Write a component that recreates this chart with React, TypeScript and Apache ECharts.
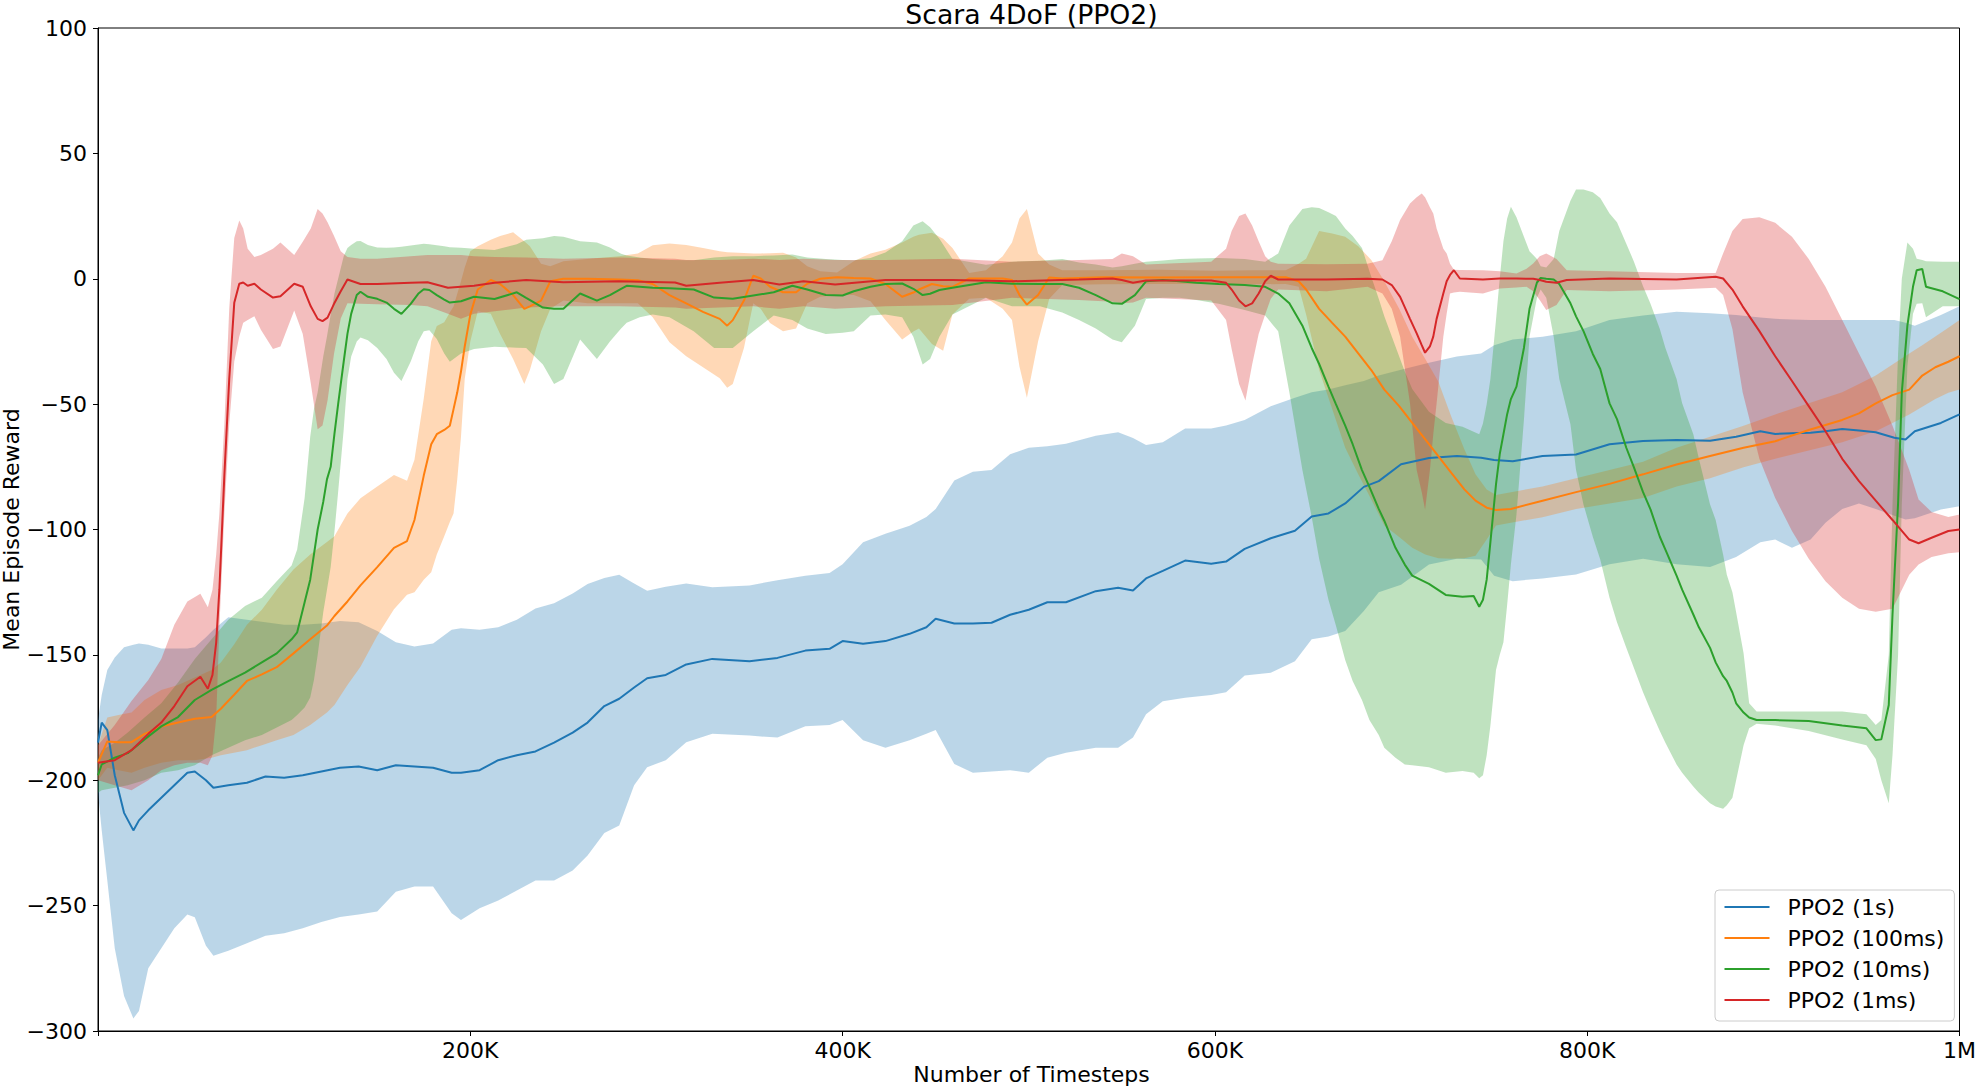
import React, { useEffect, useRef } from 'react';
import * as echarts from 'echarts';

const FONT = 'DejaVu Sans';
const TITLE = 'Scara 4DoF (PPO2)';
const X_NAME = 'Number of Timesteps';
const Y_NAME = 'Mean Episode Reward';
const SERIES_NAMES = ['PPO2 (1s)', 'PPO2 (100ms)', 'PPO2 (10ms)', 'PPO2 (1ms)'];
const SERIES_COLORS = ['#1f77b4', '#ff7f0e', '#2ca02c', '#d62728'];
const X_TICKS = [200000, 400000, 600000, 800000, 1000000];
const X_TICK_LABELS = ['200K', '400K', '600K', '800K', '1M'];

// rows: [timesteps (K), mean, lower, upper]
const ppo2_1s = [
  [0,-185,-205,-176],[2,-177,-220,-166],[5,-180,-240,-156],[9,-198,-267,-151],[14,-213,-286,-147],
  [19,-220,-295,-146],[22,-216,-292,-145.5],[27,-212,-275,-146],[34,-207,-267,-147.5],[41,-202,-259,-147.5],
  [48,-197,-253.5,-147.5],[52,-196.5,-254.6,-147],[58,-200,-266,-143],[62,-203,-270,-140],[70,-202,-268,-135],
  [80,-201,-265,-136],[90,-198.5,-262,-137],[100,-199,-261,-138],[110,-198,-259,-138],[120,-196.5,-256.5,-137.5],
  [130,-195,-254.5,-136.5],[140,-194.5,-253.5,-137],[150,-196,-252.3,-140.5],[160,-194,-244.5,-145],[170,-194.5,-242.4,-146.7],
  [180,-195,-242.4,-145.5],[190,-197,-253,-140],[195,-197,-255.7,-139.4],[205,-196,-251,-140],[215,-192,-248,-139],
  [225,-190,-244,-136],[235,-188.5,-240,-131.5],[245,-185,-240,-129.4],[255,-181,-236,-125.5],[263,-177,-230,-121.7],
  [272,-170.4,-221,-119.3],[280,-167.5,-218,-118],[288,-163,-202,-121.5],[295,-159.3,-194.8,-124.4],[305,-158,-192,-122.8],
  [316,-153.8,-184.8,-121.5],[330,-151.6,-181.5,-123],[350,-152.5,-182.2,-122.3],[365,-151.2,-183,-120.2],[380,-148.3,-178.5,-118.4],
  [393,-147.6,-178,-117.3],[400,-144.5,-176,-113.9],[411,-145.6,-184,-105.1],[423,-144.5,-187,-101.7],[436,-141.6,-184,-98.5],
  [445,-139,-181.5,-95],[450,-135.6,-180,-91.8],[460,-137.5,-193.5,-80.5],[470,-137.5,-197,-77],[480,-137.2,-196.5,-76.3],
  [490,-134,-196,-70],[500,-132,-197,-67.4],[510,-129,-191,-66.8],[520,-129,-189,-65.8],[536,-124.6,-187,-62.6],
  [548,-123.2,-187,-61.2],[556,-124.3,-183,-63.5],[563,-119.5,-173.7,-66.3],[572,-116.5,-168.5,-65.2],[584,-112.4,-167.1,-59.7],
  [598,-113.7,-166,-59.7],[606,-112.8,-164.9,-58.5],[616,-107.7,-158.2,-56.3],[630,-103.5,-157.1,-50.8],[643,-100.5,-152.5,-47.5],
  [652,-94.8,-143.8,-45.3],[661,-93.6,-142.7,-44.2],[670,-89.6,-140.5,-42.5],[680,-83,-132.5,-40.8],[688,-80.7,-125,-38.6],
  [700,-74,-122,-36.3],[715,-71.5,-114,-33.5],[730,-70.7,-111.7,-31],[743,-71.4,-112,-29.8],[750,-72.3,-118.4,-26.5],
  [760,-72.8,-120.6,-24.2],[776,-70.7,-119.5,-23.1],[794,-70.1,-117.9,-20.9],[812,-66,-113.9,-16.5],[830,-64.7,-111.7,-14.7],
  [848,-64.3,-113.9,-13.2],[866,-64.6,-115,-13.8],[880,-63,-111,-14.5],[893,-60.8,-105.1,-15.5],[901,-61.9,-104,-16],
  [910,-61.6,-107.3,-16.3],[920,-61.4,-104,-16.5],[928,-60.8,-97.3,-16.5],[937,-59.9,-91.8,-16.5],[946,-60.5,-89.6,-16.5],
  [955,-61.2,-91.8,-16.5],[965,-63.4,-94.5,-16.5],[971,-64.1,-96,-17.5],[976,-60.8,-95.5,-18.7],[990,-57.5,-92,-14.5],
  [1000,-54.1,-90.7,-11],
];

const ppo2_100ms = [
  [0,-193,-200,-186],[5,-184.5,-195,-175],[11,-184.8,-196,-174],[18,-184.8,-197,-173],[25,-181.5,-195,-168],
  [34,-178.6,-193,-164],[43,-177,-192,-162],[52,-175.5,-192,-159],[61,-174.8,-191,-156],[66,-171.5,-190,-153],
  [73,-166,-189,-146],[80,-160.4,-188,-138],[88,-157.8,-186,-132],[96,-154.9,-184,-124],[105,-149.4,-182,-116],
  [114,-143.8,-178,-110],[123,-138.3,-173,-105],[127,-134.5,-170,-102.7],[134,-128.7,-162,-93.6],[141,-122.3,-154.7,-87.5],
  [150,-115,-142.4,-82.9],[159,-107.3,-131.8,-78.3],[166,-104.6,-126,-80.6],[170,-96.2,-125,-72.2],[175,-78.5,-120,-47.8],
  [179,-66,-117,-24.9],[182,-62,-110,-18.8],[186,-60.3,-102.7,-17.3],[189,-58.6,-97,-13.5],[191,-52,-93.6,-11.1],
  [193,-45.3,-80,-6],[195,-37,-63,-1],[197,-27,-40,4.5],[200,-14.3,-25,11],[204,-4.3,-13,13],
  [211,-0.5,-14,15.6],[216,-2.1,-22,17],[223,-6.5,-32,18.5],[229,-12,-42,15],[232,-11,-36.4,13],
  [238,-8.7,-20.9,6],[243,-1,-12,5],[250,0,-8.7,7],[263,0,-9.8,7.9],[280,-0.3,-9.8,9],
  [290,-0.6,-9.8,10.1],[298,-2.1,-15.4,13.4],[307,-6.5,-25.3,14.1],[316,-9.8,-30.9,13.5],[325,-13.2,-35.3,12.3],
  [334,-16,-39.7,11],[338,-18.7,-43.5,10.6],[341,-16.5,-42,10.5],[347,-8.7,-27.6,10.3],[352,1.2,-9.8,10.1],
  [356,0.1,-12,10.1],[361,-3.2,-17.6,10.2],[368,-5.4,-20.9,10.4],[375,-5.4,-19.8,8.5],[381,-2,-9.8,5],
  [388,0,-7.2,3],[397,0.6,-6.5,2.5],[406,0.3,-6.5,7],[415,0.1,-9,10.1],[423,-2.1,-16.5,11.6],
  [432,-7.2,-24.2,14.5],[438,-5.5,-21,16.7],[441,-4.3,-19.8,17.5],[448,-2.1,-26,18.3],[454,-3,-28.7,16],
  [459,-3.2,-14.3,12.3],[468,0.1,-8,2.3],[477,0.1,-7.6,3.4],[486,0.1,-12,9],[491,-0.5,-16.5,14.5],
  [495,-6.5,-35,24],[499,-10.3,-47.5,27.8],[505,-6.5,-25,10.1],[511,0.5,-8,5.7],[518,0.1,-2.5,3.4],
  [540,0.6,-2.2,3.4],[570,0.5,-2.1,3.6],[600,0.6,-2,3.2],[620,0.6,-2.2,3.4],[638,0.6,-2.1,3.4],
  [645,-1,-3.2,6],[649,-4.3,-14.3,8],[656,-12,-36.4,19],[663,-17.6,-51.9,18],[670,-23.1,-67.4,16.7],
  [677,-29.8,-78,13],[684,-36.4,-88,7.5],[691,-44.2,-98.4,-1],[699,-50.8,-103,-12],[706,-57.5,-107.3,-23.1],
  [713,-64.1,-110,-32],[720,-70.7,-111.5,-41],[727,-77.4,-111.7,-55],[734,-84,-111.5,-68],[740,-88.5,-110.5,-78],
  [746,-91.3,-104,-84],[751,-92.2,-98.4,-86.2],[759,-91.8,-97.3,-85.1],[776,-88.5,-95.1,-82.9],[794,-85.1,-91.8,-79.6],
  [812,-81.8,-89.6,-76.3],[830,-78,-87.4,-73],[848,-74.1,-82.9,-67.4],[866,-70.7,-79.6,-63],[884,-67.4,-75.2,-58.6],
  [901,-64.8,-71.8,-54.1],[919,-60.3,-68.5,-49.7],[937,-56.3,-65.2,-45.3],[946,-53.7,-63,-42],[955,-49.7,-60.8,-38.6],
  [964,-46.4,-57.5,-34.2],[973,-44.2,-54.1,-29.8],[980,-38.6,-51,-26.5],[987,-35.3,-48,-23],[994,-33.1,-45.5,-19.5],
  [1000,-30.9,-44.2,-16.5],
];

const ppo2_10ms = [
  [0,-198,-205,-191],[2,-193.7,-204,-188],[9,-191,-203,-185],[16,-189.2,-202,-181],[25,-183.7,-200,-175],
  [34,-178.5,-197,-169.3],[43,-174.8,-196,-161],[52,-168,-194,-151.6],[61,-164,-190,-143.8],[70,-160.5,-187,-136],
  [79,-157.1,-184,-130.5],[88,-153,-182,-127.2],[96,-149.4,-179,-120.6],[104,-143.8,-176,-114.4],[107,-141,-174,-108],
  [111,-129,-171,-87.4],[114,-120,-167,-63],[116,-110,-160,-52],[118,-100,-150,-45.3],[121,-89,-133,-31],
  [123,-80,-124,-23],[125,-75,-115,-14.3],[127,-62,-101,-6],[129,-50,-85,0],[132,-33,-60,9],
  [134,-22,-40,12.3],[136,-14,-31,13.5],[139,-6.5,-25,15],[141,-5.2,-23.4,15.1],[145,-7.2,-24.5,13.5],
  [150,-8,-27.6,12.5],[155,-9.5,-32,12.4],[159,-12,-37.5,12.5],[163,-14,-40.8,12.8],[168,-10,-33,13.3],
  [172,-6,-25,13.7],[175,-4.2,-20.9,14],[178,-4.5,-20.5,13.8],[182,-6.5,-24,13.4],[186,-8.3,-29.8,13],
  [189,-9.5,-33.1,12.6],[195,-9,-29.8,12.4],[202,-7.2,-28,12],[213,-8.1,-27.1,11.5],[225,-5.4,-27.5,13.8],
  [230,-7.6,-27.6,15.6],[239,-11.5,-34.2,16.2],[245,-12,-42,17],[250,-12,-40,16.7],[259,-5.9,-24.2,15],
  [268,-8.7,-32,14.5],[275,-6.5,-25,12.5],[281,-4,-19.8,10],[284,-2.8,-17.5,9.3],[291,-3.2,-15.4,8.5],
  [298,-3.6,-14.3,7.9],[307,-3.8,-15.4,7.5],[320,-4.3,-20.9,7.4],[331,-7.5,-27.6,8.5],[341,-8,-27.6,9],
  [352,-6.7,-20.9,9],[363,-5.4,-14.7,9.3],[373,-2.8,-16.5,9.7],[381,-4.3,-19.8,8.5],[391,-6.5,-22,7.9],
  [400,-6.7,-21.5,7.5],[406,-5,-20.9,7.4],[415,-3.2,-14.7,8.3],[423,-2.1,-14.3,10.5],[432,-1.9,-15.4,15],
  [438,-4,-23.1,21.2],[443,-6.5,-34.2,22.9],[447,-6,-32,20.5],[452,-4.5,-23.1,16],[459,-3.6,-14.3,7.9],
  [477,-1.4,-7.6,5.6],[491,-2,-11,6.8],[506,-2.1,-11,7.2],[518,-2.1,-13.5,7.9],[527,-3.6,-16.5,6.5],
  [536,-6.5,-19.8,5.7],[545,-9.8,-24.2,4.5],[550,-10,-25.3,5],[557,-6.5,-18.7,6],[563,-1,-8.1,6.8],
  [572,-0.5,-7.6,7.3],[581,-1,-7.6,7.9],[590,-1.6,-8.5,8.1],[602,-2.1,-10,8.3],[616,-2.5,-12.5,7.9],
  [627,-3.2,-14.7,6.8],[634,-5.9,-20.9,10.1],[640,-9.8,-45.3,21.2],[647,-18.7,-76.3,27.8],[652,-27.6,-95,28.5],
  [656,-34,-111.7,28.2],[661,-43,-128,26.5],[665,-50,-138.3,25],[670,-58.6,-152,20],[674,-66,-160.4,17],
  [679,-76.3,-168,12.3],[683,-83,-176,3],[688,-91.8,-182,-8],[691,-96.5,-187,-15],[697,-107.3,-191,-27],
  [702,-114,-193.7,-37],[706,-118.4,-194,-44],[715,-121.7,-194.8,-53],[724,-126.1,-197,-57.5],[733,-126.8,-196.3,-59],
  [739,-126.5,-197,-61],[742,-130.8,-199.2,-62],[744,-128,-198,-57.7],[746,-120,-190,-50],[748,-105,-178.2,-40],
  [751,-82,-156,-16.5],[753,-70,-150,0],[755,-62,-145,15],[757,-54,-130,24],[759,-48,-114,28.7],
  [762,-43,-94,24.5],[766,-27.6,-56.3,16.7],[769,-12,-23.1,11],[773,-1.5,-7.6,7.9],[775,0.3,-4.3,5],
  [778,0,-7.6,4.5],[782,-0.3,-23.1,7.9],[785,-2.1,-40,19],[791,-9.8,-58,31.1],[794,-15,-76.3,35.6],
  [798,-20.9,-90,35.6],[803,-30,-102.9,34.5],[807,-36,-112,32.2],[812,-49.7,-127.2,26],[816,-56,-137,22.5],
  [821,-67.4,-147.2,14],[825,-75,-155,7],[830,-85.1,-164.9,-3],[834,-92,-172,-10],[839,-102.9,-180.4,-20],
  [842,-108,-185,-27.6],[848,-118.4,-193.7,-40],[851,-124,-197,-49.7],[857,-133.9,-202.5,-62],[860,-139,-205,-71.8],
  [866,-147.2,-209.2,-90],[869,-153,-210.5,-96.2],[873,-158.5,-211.4,-110],[875,-160.4,-210,-118],[878,-165,-207,-125],
  [880,-169.3,-200,-133],[884,-173,-186,-149.4],[887,-175,-179.3,-169.3],[891,-176,-177.5,-172.6],[901,-176,-178.2,-172.6],
  [919,-176.4,-180.4,-172.6],[937,-178.2,-183.7,-172.6],[950,-179.3,-186,-173.7],[955,-184,-191.5,-178],[958,-183.7,-200,-176],
  [962,-170,-209.2,-150],[964,-134,-190,-90],[967,-89.6,-150,-30],[969,-45.3,-90,0],[972,-18.7,-35,14.5],
  [975,-3.2,-14,12],[977,3.4,-10,8],[980,3.9,-9.8,7.5],[982,-3.2,-15.4,7],[991,-5,-11,6.8],
  [1000,-8.1,-11,6.8],
];

const ppo2_1ms = [
  [0,-193,-200,-186],[9,-192,-202,-178],[18,-188,-204,-168.4],[27,-181.5,-200,-160],[34,-177,-196,-151.6],
  [41,-170.4,-194,-138],[48,-162.5,-193,-128.7],[55,-158.7,-193,-125.6],[59,-163.5,-194,-131],[61.5,-158,-190,-124],
  [63.5,-145,-175,-110],[65.2,-124,-139,-93.6],[67.9,-78,-93.6,-58],[70.5,-40,-58,-12],[73.2,-9.6,-33,16.3],
  [75.9,-2,-23,23.2],[78,-1.5,-17.5,20],[80.4,-2.8,-16.5,12],[84,-2,-15,8.7],[87.5,-4.3,-20.3,9.5],
  [94,-7.5,-28,12],[98,-7,-27,14.5],[105.4,-2,-12.7,9.5],[110,-3.2,-22,14.8],[114.3,-11,-41.7,20],
  [118,-16,-60,27.8],[120.6,-16.9,-58.5,26],[123.3,-15.5,-48.6,22.5],[126.8,-10,-29.8,17],[130.4,-5,-15.9,11],
  [134,-0.3,-9.8,8.7],[141,-2.1,-10,8],[150,-2.1,-10.2,8],[168,-1.6,-10.5,9],[177,-1.4,-11,9.5],
  [188,-3.6,-14,9.5],[195,-3.2,-16,9.5],[202,-2.8,-14,9],[213,-1.6,-13,8.7],[230,-0.5,-11.5,8.5],
  [250,-1.4,-11,8],[280,-1,-11,8.5],[310,-1.5,-11.5,8],[316,-2.8,-12,7.5],[334,-1.6,-11.5,7.5],
  [352,-0.5,-11,8],[366,-2.3,-12,7.5],[379,-1,-11,8],[396,-2.3,-12,7.5],[423,-0.5,-11,7.5],
  [459,-0.5,-10.5,8],[491,-1,-7.6,6.8],[527,-0.3,-8.5,7.5],[545,0.1,-9.2,7.9],[550,-0.5,-9.8,10.1],
  [556,-1.6,-9.5,9],[563,-0.7,-7.6,5.7],[598,-0.7,-8.7,6.8],[606,-1.6,-16.5,12],[609,-4.3,-28,19],
  [613,-8.7,-42,25],[616.4,-11,-48.6,26],[620,-9.8,-34.2,21.2],[623.5,-5.9,-22,15],[627,-1,-14.3,9],
  [630,1.2,-8,6.8],[634,-0.3,-4.3,6],[660,-0.3,-5,5.8],[682,0,-3.2,6],[690,-0.3,-5.9,7.4],
  [695,-2.5,-12,15],[699.5,-7.2,-23.1,23.4],[704.8,-16,-49.7,30],[708.4,-21.8,-76.3,32.5],[711.1,-26.5,-85,34],
  [712.9,-29.5,-92,32.5],[715.5,-27,-76.3,28.5],[717.3,-23.1,-62,26],[719.1,-16,-49.7,20],[722.7,-5.9,-23.1,12],
  [724.5,-1,-14,10.1],[726.3,1.5,-5.9,6],[728.4,3.4,-5.5,3.6],[731.6,0.1,-5.2,3.5],[744,-0.3,-5.9,3.4],
  [753,0.1,-3.9,3],[762,0.1,-3.5,2.1],[767.4,0,-3.2,4],[771,0,-5,6.1],[774.5,-0.5,-8.5,9],
  [778,-1.2,-12.5,10.1],[783.5,-1.6,-10.5,7.9],[789,-0.5,-4.5,3.4],[812,0.1,-5,3],[848,-0.3,-4.3,2.3],
  [869,0.8,-3.6,2.3],[873,0.1,-6.5,10.1],[878,-4.3,-20,19],[883.5,-11,-45.3,23.8],[892.5,-20.9,-71.8,24.5],
  [901,-30.9,-87.4,22.3],[910,-40.8,-100.6,16.7],[919,-50.8,-111.7,7.9],[928,-60.8,-120.6,-3.2],[937,-71.8,-127.2,-16.5],
  [946,-80.7,-131.6,-29.8],[955,-88.5,-132.8,-43],[964,-96.2,-131.6,-58.6],[973,-104,-118,-76.3],[978,-105.5,-114,-88],
  [985,-103.3,-111,-93],[994,-100.6,-109.5,-95],[1000,-100,-109.1,-94],
];

const ALL_ROWS = [ppo2_1s, ppo2_100ms, ppo2_10ms, ppo2_1ms];

function rgba(hex: string, a: number) {
  const n = parseInt(hex.slice(1), 16);
  return `rgba(${(n >> 16) & 255},${(n >> 8) & 255},${n & 255},${a})`;
}

function bandSeries(rows: number[][], color: string, idx: number) {
  return {
    type: 'custom',
    name: 'band-' + idx,
    z: 2,
    silent: true,
    data: rows.map((r) => [r[0] * 1000, r[2], r[3]]),
    encode: { x: 0, y: [1, 2] },
    renderItem: (params: any, api: any) => {
      if (params.dataIndex !== 0) return null;
      const upper = rows.map((r) => api.coord([r[0] * 1000, r[3]]));
      const lower = rows.map((r) => api.coord([r[0] * 1000, r[2]])).reverse();
      return {
        type: 'polygon',
        shape: { points: upper.concat(lower) },
        style: { fill: rgba(color, 0.3), stroke: null },
      };
    },
  };
}

function lineSeries(rows: number[][], color: string, name: string) {
  return {
    type: 'line',
    name,
    z: 3,
    silent: true,
    symbol: 'none',
    showSymbol: false,
    data: rows.map((r) => [r[0] * 1000, r[1]]),
    lineStyle: { width: 2, color },
    itemStyle: { color },
  };
}

export default function App() {
  const ref = useRef<HTMLDivElement>(null);
  useEffect(() => {
    if (!ref.current) return;
    const chart = echarts.init(ref.current, null, { renderer: 'svg' });
    const gridLeft = 98, gridRight = 14, gridTop = 28, gridBottom = 56;
    const plotCx = gridLeft + (1979 - gridLeft - gridRight) / 2;
    const plotCy = gridTop + (1087 - gridTop - gridBottom) / 2;
    const axisText = { fontFamily: FONT, fontSize: 22, color: '#000' };
    chart.setOption({
      animation: false,
      backgroundColor: '#fff',
      grid: {
        left: gridLeft, right: gridRight, top: gridTop, bottom: gridBottom,
        show: true, borderColor: '#000', borderWidth: 1, backgroundColor: 'transparent',
      },
      xAxis: {
        type: 'value', min: 0, max: 1000000, interval: 200000,
        axisLine: { show: true, onZero: false, lineStyle: { color: '#000', width: 1 } },
        axisTick: { show: true, length: 5, lineStyle: { color: '#000', width: 1 } },
        axisLabel: {
          ...axisText, margin: 8,
          formatter: (v: number) => {
            const i = X_TICKS.indexOf(v);
            return i >= 0 ? X_TICK_LABELS[i] : '';
          },
        },
        splitLine: { show: false },
      },
      yAxis: {
        type: 'value', min: -300, max: 100, interval: 50,
        axisLine: { show: true, onZero: false, lineStyle: { color: '#000', width: 1 } },
        axisTick: { show: true, length: 5, lineStyle: { color: '#000', width: 1 } },
        axisLabel: { ...axisText, margin: 11, formatter: (v: number) => String(v).replace('-', '\u2212') },
        splitLine: { show: false },
      },
      legend: {
        orient: 'vertical', left: 1715, top: 890,
        data: SERIES_NAMES,
        itemWidth: 45, itemHeight: 22, itemGap: 9,
        padding: [6, 10, 10, 8.5],
        backgroundColor: 'rgba(255,255,255,0.8)',
        borderColor: '#cccccc', borderWidth: 1, borderRadius: 4,
        selectedMode: false,
        itemStyle: { opacity: 0 },
        lineStyle: { width: 2 },
        textStyle: { fontFamily: FONT, fontSize: 22, color: '#000', padding: [0, 0, 0, 13] },
      },
      graphic: [
        {
          type: 'text', x: plotCx, y: 14, silent: true,
          style: { text: TITLE, fontFamily: FONT, fontSize: 26.7, fill: '#000', align: 'center', verticalAlign: 'middle' },
        },
        {
          type: 'text', x: plotCx, y: 1074, silent: true,
          style: { text: X_NAME, fontFamily: FONT, fontSize: 22, fill: '#000', align: 'center', verticalAlign: 'middle' },
        },
        {
          type: 'text', x: 11.5, y: plotCy, rotation: Math.PI / 2, silent: true,
          style: { text: Y_NAME, fontFamily: FONT, fontSize: 22, fill: '#000', align: 'center', verticalAlign: 'middle' },
        },
      ],
      series: [
        ...ALL_ROWS.map((rows, i) => bandSeries(rows, SERIES_COLORS[i], i)),
        ...ALL_ROWS.map((rows, i) => lineSeries(rows, SERIES_COLORS[i], SERIES_NAMES[i])),
      ],
    });
    return () => chart.dispose();
  }, []);
  return (
    <div
      ref={ref}
      style={{ position: 'fixed', left: 0, top: 0, width: 1979, height: 1087, background: '#fff' }}
    />
  );
}
